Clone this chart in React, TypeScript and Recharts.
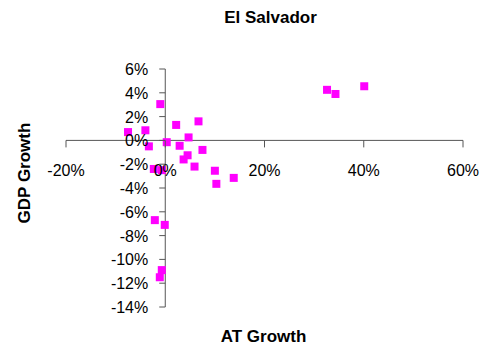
import { ScatterChart, Scatter, XAxis, YAxis, ReferenceLine } from 'recharts'

const atGrowth = [
  -7.5, -4.0, -3.3, -1.0, -2.3, -0.7, 0.3, 2.2, 2.9, 4.7, 4.5, 3.7, 6.7, 5.9, 7.5,
  10.0, 10.3, 13.8, 32.6, 34.3, 40.1, -2.1, -0.1, -0.7, -1.1,
]
const gdpGrowth = [
  0.7, 0.85, -0.5, 3.05, -2.4, -2.5, -0.15, 1.3, -0.45, 0.25, -1.25, -1.6, 1.6, -2.2, -0.8,
  -2.55, -3.65, -3.15, 4.25, 3.9, 4.55, -6.7, -7.1, -10.9, -11.5,
]

const xTicks = [-20, 0, 20, 40, 60]
const yTicks = [-14, -12, -10, -8, -6, -4, -2, 0, 2, 4, 6]

const W = 485
const H = 352
const AX = 10 // thickness given to the hidden axes
const M = { top: 69, right: 22, bottom: 45 - AX, left: 66 - AX }
const FONT = '"Liberation Sans", Arial, sans-serif'
const AXIS = '#555'

const xDomain: [number, number] = [xTicks[0], xTicks[xTicks.length - 1]]
const yDomain: [number, number] = [yTicks[0], yTicks[yTicks.length - 1]]

// the axes cross at zero, so work out where zero lands in the plot area
const plotLeft = M.left + AX
const plotW = W - plotLeft - M.right
const plotH = H - M.top - M.bottom - AX
const zeroX = plotLeft + (plotW * (0 - xDomain[0])) / (xDomain[1] - xDomain[0])
const zeroY = M.top + (plotH * (yDomain[1] - 0)) / (yDomain[1] - yDomain[0])

const data = atGrowth.map((x, i) => ({ x, y: gdpGrowth[i] }))

const renderXTick = (props: any) => {
  const { x, payload } = props
  return (
    <g key={`xt-${payload.value}`}>
      <line x1={x} x2={x} y1={zeroY} y2={zeroY + 7} stroke={AXIS} />
      <text x={x} y={zeroY + 36} textAnchor="middle" fontSize={16} fontFamily={FONT} fill="#000">
        {payload.value}%
      </text>
    </g>
  )
}

const renderYTick = (props: any) => {
  const { y, payload } = props
  return (
    <g key={`yt-${payload.value}`}>
      <line x1={zeroX - 6} x2={zeroX} y1={y} y2={y} stroke={AXIS} />
      <text x={zeroX - 17} y={y + 6} textAnchor="end" fontSize={16} fontFamily={FONT} fill="#000">
        {payload.value}%
      </text>
    </g>
  )
}

const Square = ({ cx, cy }: any) => (
  <rect x={cx - 4} y={cy - 4} width={8} height={8} fill="#ff00ff" />
)

export default function App() {
  return (
    <div style={{ position: 'absolute', left: 0, top: 0, width: W, height: H, background: '#fff', fontFamily: FONT }}>
      <div style={{ position: 'absolute', left: 0, width: W, top: 8, textAlign: 'center', paddingLeft: 56, boxSizing: 'border-box', fontWeight: 'bold', fontSize: 17 }}>
        El Salvador
      </div>
      <div style={{ position: 'absolute', left: 0, width: W, top: 327, textAlign: 'center', paddingLeft: 42, boxSizing: 'border-box', fontWeight: 'bold', fontSize: 17 }}>
        AT Growth
      </div>
      <div
        style={{
          position: 'absolute',
          left: 25,
          top: 173,
          transform: 'translate(-50%, -50%) rotate(-90deg)',
          whiteSpace: 'nowrap',
          fontWeight: 'bold',
          fontSize: 17,
        }}
      >
        GDP Growth
      </div>
      <ScatterChart width={W} height={H} margin={M} style={{ position: 'absolute', left: 0, top: 0 }}>
        <XAxis
          type="number"
          dataKey="x"
          domain={xDomain}
          ticks={xTicks}
          interval={0}
          height={AX}
          axisLine={false}
          tickLine={false}
          tick={renderXTick}
        />
        <YAxis
          type="number"
          dataKey="y"
          domain={yDomain}
          ticks={yTicks}
          interval={0}
          width={AX}
          axisLine={false}
          tickLine={false}
          tick={renderYTick}
        />
        <ReferenceLine y={0} stroke={AXIS} />
        <ReferenceLine x={0} stroke={AXIS} />
        <Scatter data={data} shape={<Square />} isAnimationActive={false} />
      </ScatterChart>
    </div>
  )
}
